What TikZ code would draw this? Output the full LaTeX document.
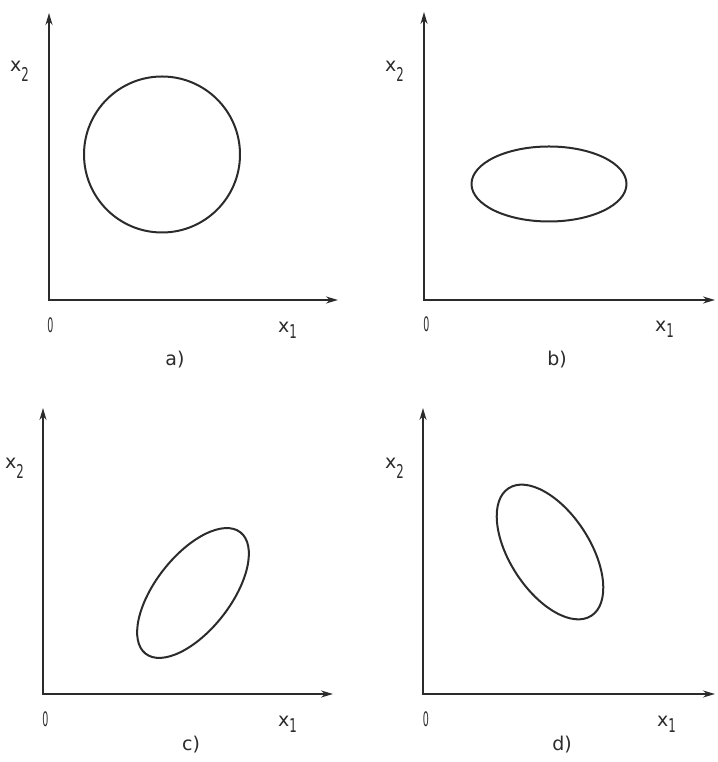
\documentclass[tikz,border=0pt]{standalone}
\usepackage{fontspec}
\usepackage{graphicx}
\setmainfont{DejaVu Sans}
\usetikzlibrary{arrows.meta}
\definecolor{ink}{HTML}{2B2B2B}
\newcommand\subdig[2]{\raisebox{-#1}{\scalebox{0.62}[1]{#2}}}
\newcommand\narrowzero{\scalebox{0.5}[1.05]{0}}
\begin{document}
\begin{tikzpicture}[x=1pt,y=1pt,
  axis/.style={line width=1.8pt, draw=ink, {Stealth[length=12pt,width=7pt]}-{Stealth[length=12pt,width=7pt]}},
  curve/.style={line width=2pt, draw=ink},
  lbl/.style={inner sep=0pt, anchor=base west, font=\fontsize{19}{22}\selectfont, text=ink},
  ctext/.style={inner sep=0pt, anchor=base, font=\fontsize{19}{22}\selectfont, text=ink}]
\useasboundingbox (0,0) rectangle (717,762);

% ---- panel a ----
\coordinate (aO) at (49,462);
\coordinate (aT) at (49,749);
\coordinate (aR) at (338,462);
\draw[axis] (aT) -- (aO) -- (aR);
\coordinate (aC) at (162,607.5);
\draw[curve] (aC) circle[radius=78];
\node[lbl] (ax2) at (10,690) {x\subdig{10pt}{2}};
\node[lbl] (ax1) at (278,429) {x\subdig{6pt}{1}};
\node[ctext] (a0) at (50.5,429) {\narrowzero};
\node[ctext] (acap) at (175,396) {a)};

% ---- panel b ----
\coordinate (bO) at (424,462);
\coordinate (bT) at (424,750);
\coordinate (bR) at (715,462);
\draw[axis] (bT) -- (bO) -- (bR);
\coordinate (bC) at (549,578);
\draw[curve] (bC) ellipse[x radius=77.5, y radius=37.5];
\node[lbl] (bx2) at (385,690) {x\subdig{10pt}{2}};
\node[lbl] (bx1) at (655,430) {x\subdig{6pt}{1}};
\node[ctext] (b0) at (426.5,430) {\narrowzero};
\node[ctext] (bcap) at (557,396) {b)};

% ---- panel c ----
\coordinate (cO) at (43,68);
\coordinate (cT) at (43,354);
\coordinate (cR) at (333,68);
\draw[axis] (cT) -- (cO) -- (cR);
\coordinate (cC) at (193,169);
\draw[curve, rotate around={52:(cC)}] (cC) ellipse[x radius=77, y radius=37.5];
\node[lbl] (cx2) at (5,293) {x\subdig{10pt}{2}};
\node[lbl] (cx1) at (278,35) {x\subdig{6pt}{1}};
\node[ctext] (c0) at (45.5,35) {\narrowzero};
\node[ctext] (ccap) at (191,12) {c)};

% ---- panel d ----
\coordinate (dO) at (423,68);
\coordinate (dT) at (423,354);
\coordinate (dR) at (715,68);
\draw[axis] (dT) -- (dO) -- (dR);
\coordinate (dC) at (550,210);
\draw[curve, rotate around={123:(dC)}] (dC) ellipse[x radius=76, y radius=40];
\node[lbl] (dx2) at (385,293) {x\subdig{10pt}{2}};
\node[lbl] (dx1) at (657,35) {x\subdig{6pt}{1}};
\node[ctext] (d0) at (426,35) {\narrowzero};
\node[ctext] (dcap) at (562,12) {d)};
\end{tikzpicture}
\end{document}
